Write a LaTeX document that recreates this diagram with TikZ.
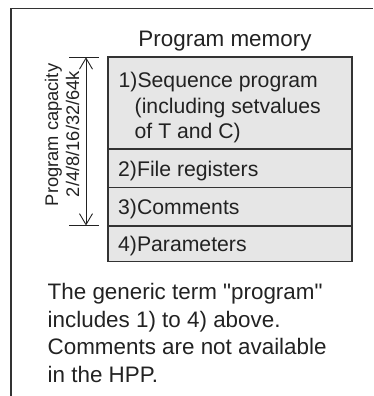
\documentclass[tikz,border=0pt]{standalone}
\usepackage{fontspec}
\setmainfont{Liberation Sans}
\usetikzlibrary{arrows.meta}
\definecolor{ink}{HTML}{222222}
\definecolor{linec}{HTML}{333333}
\definecolor{boxfill}{HTML}{E6E6E6}
\tikzset{
  frameline/.style={draw=linec, line width=1.6pt},
  rowbox/.style={draw=linec, fill=boxfill, line width=1.1pt, rectangle, outer sep=0pt, inner sep=0pt, minimum width=244pt, anchor=north west},
  bigtxt/.style={text=ink, inner sep=0pt, font=\fontsize{22.4}{25}\selectfont},
  rowtxt/.style={text=ink, inner sep=0pt, font=\fontsize{21.2}{25}\selectfont, anchor=base west},
  rottxt/.style={text=ink, inner sep=0pt, font=\fontsize{18.3}{21}\selectfont, rotate=90, anchor=base},
  tickline/.style={draw=ink, line width=0.9pt},
  dimarrow/.style={draw=ink, line width=0.9pt, {Straight Barb[length=11pt,width=13pt]}-{Straight Barb[length=11pt,width=13pt]}}
}
\begin{document}
\begin{tikzpicture}[x=1pt,y=-1pt]
\useasboundingbox (0,0) rectangle (373,396);
% partial frame
\coordinate (fbl) at (11,396);
\coordinate (ftl) at (11,8.5);
\coordinate (ftr) at (373,8.5);
\draw[frameline] (fbl) -- (ftl) -- (ftr);
% title
\node[bigtxt, anchor=base] (title) at (225,47) {Program memory};
% rows
\node[rowbox, minimum height=92pt] (r1) at (108,57) {};
\node[rowbox, minimum height=38.7pt] (r2) at (108,149) {};
\node[rowbox, minimum height=38.3pt] (r3) at (108,187.7) {};
\node[rowbox, minimum height=35.5pt] (r4) at (108,226) {};
% row texts
\node[rowtxt] (t1a) at (118.5,88) {1)Sequence program};
\node[rowtxt] (t1b) at (134.5,113) {(including setvalues};
\node[rowtxt] (t1c) at (134.5,138) {of T and C)};
\node[rowtxt] (t2) at (118,176) {2)File registers};
\node[rowtxt] (t3) at (118,214.8) {3)Comments};
\node[rowtxt] (t4) at (118,251.8) {4)Parameters};
% dimension
\coordinate (dtop) at (86,57.3);
\coordinate (dbot) at (86,225.5);
\coordinate (ttl) at (69,57.3);
\coordinate (ttr) at (99,57.3);
\coordinate (tbl) at (69,225.5);
\coordinate (tbr) at (99,225.5);
\draw[tickline] (ttl) -- (ttr);
\draw[tickline] (tbl) -- (tbr);
\draw[dimarrow] (dtop) -- (dbot);
\node[rottxt] (cap1) at (58,135) {Program capacity};
\node[rottxt] (cap2) at (79,134) {2/4/8/16/32/64k};
% note
\node[bigtxt, anchor=base west] (n1) at (47.5,299) {The generic term \textquotedbl program\textquotedbl};
\node[bigtxt, anchor=base west] (n2) at (47.5,327) {includes 1) to 4) above.};
\node[bigtxt, anchor=base west] (n3) at (47.5,354.5) {Comments are not available};
\node[bigtxt, anchor=base west] (n4) at (47.5,382) {in the HPP.};
\end{tikzpicture}
\end{document}
